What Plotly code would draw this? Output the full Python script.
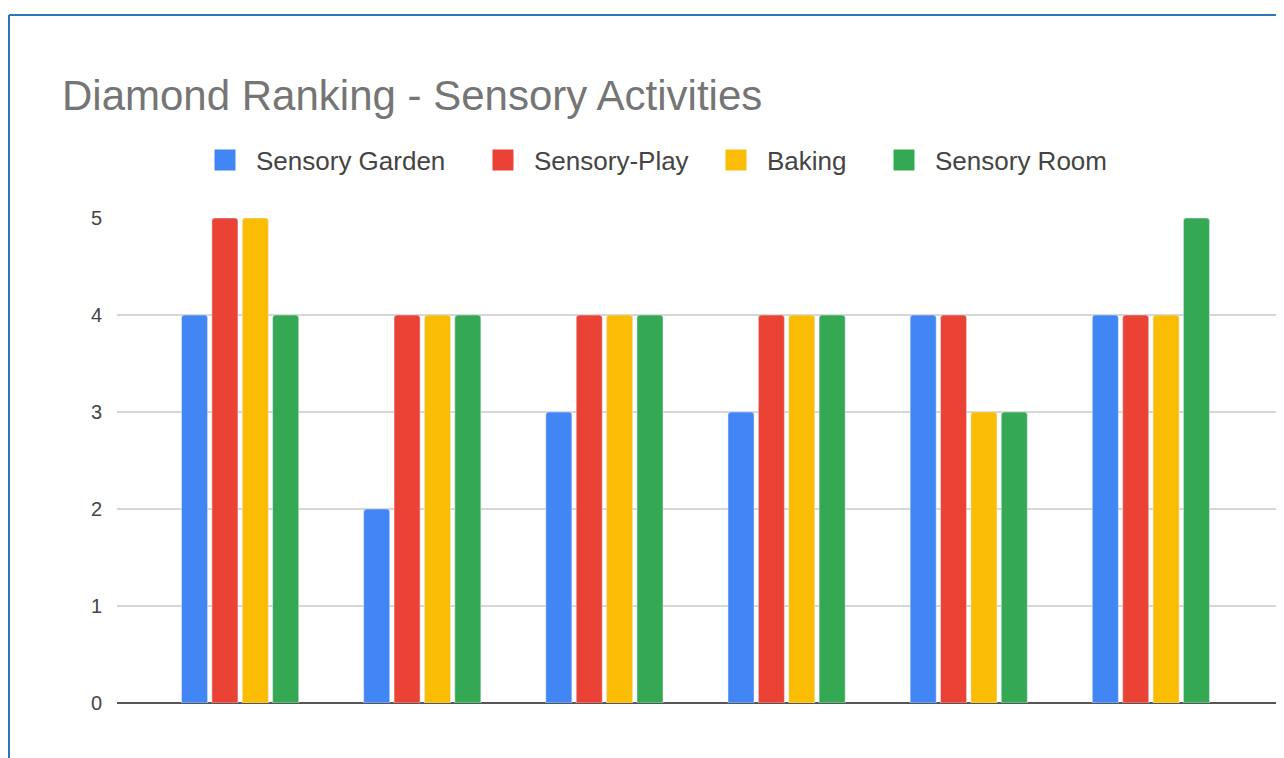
import plotly.graph_objects as go

categories = ["Group 1", "Group 2", "Group 3", "Group 4", "Group 5", "Group 6"]
series_names = ["Sensory Garden", "Sensory-Play", "Baking", "Sensory Room"]
sensory_garden = [4, 2, 3, 3, 4, 4]
sensory_play = [5, 4, 4, 4, 4, 4]
baking = [5, 4, 4, 4, 3, 4]
sensory_room = [4, 4, 4, 4, 3, 5]
y_ticks = [0, 1, 2, 3, 4, 5]

colors = ["#4285F4", "#EA4335", "#FBBC04", "#34A853"]
values = [sensory_garden, sensory_play, baking, sensory_room]
legend_widths = [211, 166, 101, 174]

W, H = 1284, 758
OFF = 8  # page body margin offset
ml, mr, mt, mb = 117 - OFF, 8 + OFF, 218 - OFF, 55 + OFF
pw = W - ml - mr
ph = H - mt - mb

x_idx = list(range(len(categories)))

fig = go.Figure()
for name, vals, col in zip(series_names, values, colors):
    fig.add_trace(go.Bar(x=x_idx, y=vals, name=name, marker_color=col,
                         showlegend=False, hovertext=categories))
# legend proxies (bigger squares)
for name, col, lw in zip(series_names, colors, legend_widths):
    fig.add_trace(go.Scatter(x=[None], y=[None], mode="markers", name=name,
                             legendwidth=lw,
                             marker=dict(symbol="square", size=16, color=col,
                                         line=dict(color=col, width=5))))

def px_x(p):
    return (p - OFF - ml) / pw

def px_y(p):
    return (H - mb - (p - OFF)) / ph

fig.update_layout(
    width=W, height=H,
    margin=dict(l=ml, r=mr, t=mt, b=mb),
    paper_bgcolor="white", plot_bgcolor="white",
    barmode="group", bargap=0.333, bargroupgap=0.143, barcornerradius=3,
    title=dict(text="Diamond Ranking - Sensory Activities",
               font=dict(family="Liberation Sans, Arial", size=42, color="#757575"),
               x=(62 - OFF) / W, xref="container", xanchor="left",
               y=1 - (95 - OFF) / H, yref="container", yanchor="middle"),
    legend=dict(orientation="h", x=px_x(654), xanchor="center", xref="paper",
                y=px_y(160), yanchor="middle",
                font=dict(family="Liberation Sans, Arial", size=26, color="#444444"),
                itemwidth=52, tracegroupgap=0),
    xaxis=dict(range=[-0.5 - 32 / 182, 5.5 + 34 / 182], showticklabels=False,
               showgrid=False, zeroline=False, ticks=""),
    yaxis=dict(range=[0, 5], tickvals=y_ticks, showgrid=True, gridcolor="#d6d6d6",
               gridwidth=1.5, zeroline=True, zerolinecolor="#555555", zerolinewidth=2,
               tickfont=dict(family="Liberation Sans, Arial", size=20, color="#444444"),
               ticks="", ticklabelstandoff=14),
    shapes=[
        dict(type="line", xref="paper", yref="paper", x0=px_x(9), x1=px_x(1300),
             y0=px_y(15), y1=px_y(15), line=dict(color="#2b78b8", width=2)),
        dict(type="line", xref="paper", yref="paper", x0=px_x(9), x1=px_x(9),
             y0=px_y(15), y1=px_y(780), line=dict(color="#2b78b8", width=2)),
    ],
)

fig.write_html("out.html")
